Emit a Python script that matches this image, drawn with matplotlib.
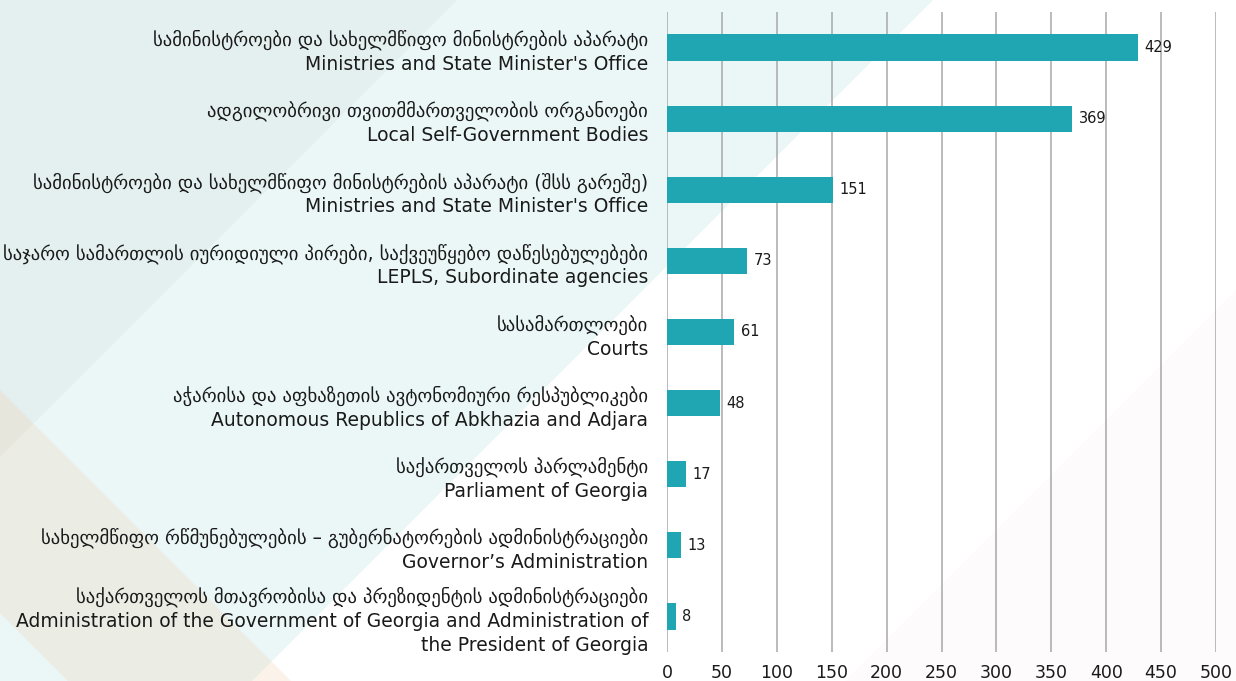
import matplotlib
matplotlib.use("Agg")
import matplotlib.pyplot as plt
from matplotlib.patches import Polygon

plt.rcParams["font.family"] = ["DejaVu Sans"]

# ---------------------------------------------------------------------------
# Data
# ---------------------------------------------------------------------------

labels_ka = [
    "სამინისტროები და სახელმწიფო მინისტრების აპარატი",
    "ადგილობრივი თვითმმართველობის ორგანოები",
    "სამინისტროები და სახელმწიფო მინისტრების აპარატი (შსს გარეშე)",
    "საჯარო სამართლის იურიდიული პირები, საქვეუწყებო დაწესებულებები",
    "სასამართლოები",
    "აჭარისა და აფხაზეთის ავტონომიური რესპუბლიკები",
    "საქართველოს პარლამენტი",
    "სახელმწიფო რწმუნებულების – გუბერნატორების ადმინისტრაციები",
    "საქართველოს მთავრობისა და პრეზიდენტის ადმინისტრაციები",
]
labels_en = [
    "Ministries and State Minister's Office",
    "Local Self-Government Bodies",
    "Ministries and State Minister's Office",
    "LEPLS, Subordinate agencies",
    "Courts",
    "Autonomous Republics of Abkhazia and Adjara",
    "Parliament of Georgia",
    "Governor’s Administration",
    "Administration of the Government of Georgia and Administration of\nthe President of Georgia",
]
values = [429, 369, 151, 73, 61, 48, 17, 13, 8]
x_ticks = list(range(0, 501, 50))

BAR = "#1FA6B2"
GRID = "#A8A8A8"

W, H = 1236, 681
fig = plt.figure(figsize=(W / 100, H / 100), dpi=100)
fig.patch.set_facecolor("white")


def px(points):
    # pixel coords (y from top) -> figure fraction
    return [(x / W, 1 - y / H) for x, y in points]


# decorative background shapes
bg = [
    ([(0, 0), (933, 0), (252, 681), (0, 681)], "#EBF7F7", 1.0),
    ([(0, 0), (457, 0), (0, 457)], "#E4EFEF", 1.0),
    ([(0, 390), (291, 681), (68, 681), (0, 613)], "#EFC89C", 0.22),
    ([(1236, 290), (1236, 681), (845, 681)], "#F6EDED", 0.22),
]
for pts, col, a in bg:
    fig.add_artist(Polygon(px(pts), closed=True, transform=fig.transFigure,
                           facecolor=col, edgecolor="none", alpha=a, zorder=-5))

ax = fig.add_axes([667 / W, 1 - 652 / H, (1216 - 667) / W, 640 / H])
ax.set_facecolor("none")

pos = list(range(len(values)))
ax.barh(pos, values, height=0.37, color=BAR, zorder=3)
for p, v in zip(pos, values):
    ax.text(v + 6, p, str(v), va="center", ha="left", fontsize=10.5, color="#1a1a1a")

ax.set_xlim(0, 500)
ax.set_ylim(len(values) - 0.5, -0.5)
ax.set_xticks(x_ticks)
ax.set_yticks(pos)
ax.set_yticklabels([f"{k}\n{e}" for k, e in zip(labels_ka, labels_en)])
for t in ax.get_yticklabels():
    t.set_linespacing(1.32)
ax.tick_params(axis="y", length=0, pad=13.5, labelsize=13.5, labelcolor="#1a1a1a")
ax.tick_params(axis="x", length=0, pad=9, labelsize=12.5, labelcolor="#1a1a1a")
ax.grid(axis="x", color=GRID, linewidth=1.1, zorder=0)
for s in ax.spines.values():
    s.set_visible(False)

fig.savefig("out.png", dpi=100)
